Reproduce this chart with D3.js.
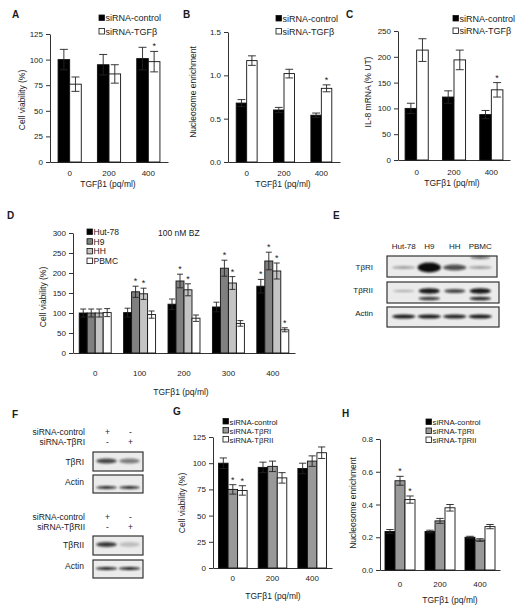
<!DOCTYPE html>
<html><head><meta charset="utf-8">
<script src="https://cdn.jsdelivr.net/npm/d3@7"></script>
<style>body{margin:0;background:#fff}svg{display:block;font-family:"Liberation Sans",Arial,sans-serif}svg text{fill:#1a1a1a}</style>
</head><body><svg id="c" width="523" height="612"></svg>
<script>
// ---------------- DATA ----------------
const doseABC = ["0", "200", "400"];
const seriesAB = ["siRNA-control", "siRNA-TGFβ"];
// Panel A: cell viability (%)
const aControl = [100, 95, 101];
const aControlErr = [10, 10, 11];
const aTGF = [76, 86, 98];
const aTGFErr = [7, 9, 10];
const aTicks = [0, 25, 50, 75, 100, 125];
// Panel B: nucleosome enrichment
const bControl = [0.68, 0.60, 0.54];
const bControlErr = [0.04, 0.03, 0.025];
const bTGF = [1.17, 1.02, 0.85];
const bTGFErr = [0.055, 0.05, 0.04];
const bTicks = [0, 0.5, 1.0, 1.5];
// Panel C: IL-8 mRNA (% UT)
const cControl = [100, 122, 88];
const cControlErr = [10, 12, 8];
const cTGF = [213, 194, 136];
const cTGFErr = [22, 19, 14];
const cTicks = [0, 50, 100, 150, 200, 250];
// Panel D: cell viability, 100 nM BZ
const doseD = ["0", "100", "200", "300", "400"];
const seriesD = ["Hut-78", "H9", "HH", "PBMC"];
const dHut78 = [100, 101, 122, 115, 167];
const dHut78Err = [10, 11, 13, 12, 17];
const dH9 = [100, 153, 180, 212, 230];
const dH9Err = [10, 14, 17, 20, 22];
const dHH = [100, 148, 158, 175, 205];
const dHHErr = [10, 14, 15, 16, 20];
const dPBMC = [101, 96, 87, 74, 58];
const dPBMCErr = [10, 9, 8, 7, 5];
const dTicks = [0, 50, 100, 150, 200, 250, 300];
// Panel G / H
const seriesGH = ["siRNA-control", "siRNA-TβRI", "siRNA-TβRII"];
const gControl = [100, 96, 95];
const gControlErr = [5, 5, 5];
const gTbRI = [75, 97, 102];
const gTbRIErr = [4.5, 5, 5];
const gTbRII = [74, 86, 110];
const gTbRIIErr = [4.5, 5, 5.5];
const gTicks = [0, 25, 50, 75, 100, 125];
const hControl = [0.235, 0.235, 0.20];
const hControlErr = [0.012, 0.008, 0.006];
const hTbRI = [0.545, 0.30, 0.183];
const hTbRIErr = [0.027, 0.015, 0.008];
const hTbRII = [0.43, 0.38, 0.265];
const hTbRIIErr = [0.022, 0.02, 0.013];
const hTicks = [0, 0.2, 0.4, 0.6, 0.8];
// Western blots (band intensities 0..1)
const eLanes = ["Hut-78", "H9", "HH", "PBMC"];
const eTbRI = [0.35, 1.0, 0.7, 0.35];
const eTbRIIupper = [0.3, 0.95, 0.75, 0.95];
const eTbRIIlower = [0.0, 0.8, 0.0, 0.9];
const eActin = [0.95, 0.95, 0.9, 0.95];
const fLanes = ["control", "knockdown"];
const fCtrlSigns1 = ["+", "-"];
const fKdSigns1 = ["-", "+"];
const fTbRI = [0.75, 0.5];
const fActin1 = [0.9, 0.9];
const fTbRII = [0.8, 0.2];
const fActin2 = [0.95, 0.95];

// ---------------- DRAW ----------------
const svg = d3.select("#c");
svg.append("rect").attr("width", 523).attr("height", 612).attr("fill", "#fff");
const defs = svg.append("defs");
defs.append("filter").attr("id", "blur").attr("x", "-50%").attr("y", "-100%").attr("width", "200%").attr("height", "300%")
  .append("feGaussianBlur").attr("stdDeviation", 1.1);

function panelLabel(t, x, y) {
  svg.append("text").attr("x", x).attr("y", y).attr("font-size", 10).attr("font-weight", "bold").text(t);
}

function barPanel(p) {
  const g = svg.append("g");
  const x = d3.scaleBand().domain(p.groups).range([p.x0, p.x1]).paddingInner(p.pad).paddingOuter(p.pad / 2);
  const xs = d3.scaleBand().domain(p.series.map(s => s.name)).range([0, x.bandwidth()]);
  const y = d3.scaleLinear().domain([0, p.max]).range([p.yBot, p.yTop]);
  // y axis
  const ya = g.append("g").attr("transform", `translate(${p.x0},0)`)
    .call(d3.axisLeft(y).tickValues(p.ticks).tickFormat(p.fmt).tickSizeInner(4).tickSizeOuter(0).tickPadding(3));
  ya.selectAll("text").attr("font-size", 8).attr("font-family", "Liberation Sans, Arial, sans-serif").attr("fill", "#1a1a1a");
  ya.selectAll("line,path").attr("stroke", "#333");
  // x axis
  const xa = g.append("g").attr("transform", `translate(0,${p.yBot})`)
    .call(d3.axisBottom(x).tickSizeInner(0).tickSizeOuter(0).tickPadding(p.xPad));
  xa.selectAll("text").attr("font-size", 8).attr("font-family", "Liberation Sans, Arial, sans-serif").attr("fill", "#1a1a1a");
  xa.selectAll("path").attr("stroke", "#333");
  // bars
  p.series.forEach((s, si) => {
    const gg = g.append("g");
    p.groups.forEach((grp, gi) => {
      const bx = x(grp) + xs(s.name);
      const bw = xs.bandwidth();
      gg.append("rect").attr("x", bx).attr("y", y(s.values[gi])).attr("width", bw)
        .attr("height", y(0) - y(s.values[gi])).attr("fill", s.fill).attr("stroke", "#111").attr("stroke-width", 0.9);
      const cx = bx + bw / 2, cw = Math.min(bw * 0.75, 8) / 2;
      const hi = y(s.values[gi] + s.errors[gi]), lo = y(s.values[gi] - s.errors[gi]);
      const ec = "#222";
      gg.append("line").attr("x1", cx).attr("x2", cx).attr("y1", hi).attr("y2", lo).attr("stroke", ec).attr("stroke-width", 0.9);
      gg.append("line").attr("x1", cx - cw).attr("x2", cx + cw).attr("y1", hi).attr("y2", hi).attr("stroke", ec).attr("stroke-width", 0.9);
      gg.append("line").attr("x1", cx - cw).attr("x2", cx + cw).attr("y1", lo).attr("y2", lo).attr("stroke", ec).attr("stroke-width", 0.9);
      if (s.stars && s.stars[gi]) {
        gg.append("text").attr("x", cx).attr("y", hi - 2).attr("text-anchor", "middle").attr("font-size", 9).text("*");
      }
    });
  });
  // legend
  const lg = g.append("g");
  p.series.forEach((s, i) => {
    const ly = p.legY + i * p.legDy;
    lg.append("rect").attr("x", p.legX).attr("y", ly - 3).attr("width", 5.5).attr("height", 5.5)
      .attr("fill", s.fill).attr("stroke", "#111").attr("stroke-width", 0.8);
    lg.append("text").attr("x", p.legX + 6.5).attr("y", ly + 3).attr("font-size", p.legFont || 9).text(s.name);
  });
  // y title
  g.append("text").attr("transform", `translate(${p.yTitleX},${p.yTitleY}) rotate(-90)`)
    .attr("text-anchor", "middle").attr("dy", "0.35em").attr("font-size", 8.5).text(p.yTitle);
  // x title
  g.append("text").attr("x", p.xTitleX).attr("y", p.xTitleY).attr("text-anchor", "middle").attr("font-size", 8.5).text("TGFβ1 (pq/ml)");
}

const fmt0 = d3.format("d"), fmt1 = d3.format(".1f");

// Panel A
panelLabel("A", 12, 18);
barPanel({
  groups: doseABC, x0: 50, x1: 168, pad: 0.41, yTop: 34, yBot: 162, max: 125, ticks: aTicks, fmt: fmt0, xPad: 8,
  series: [
    { name: seriesAB[0], values: aControl, errors: aControlErr, fill: "#000" },
    { name: seriesAB[1], values: aTGF, errors: aTGFErr, fill: "#fff", stars: [0, 0, 1] }],
  legX: 99, legY: 18, legDy: 13.5, yTitle: "Cell viability (%)", yTitleX: 22, yTitleY: 100, xTitleX: 108, xTitleY: 187
});
// Panel B
panelLabel("B", 183, 18);
barPanel({
  groups: doseABC, x0: 228, x1: 340, pad: 0.44, yTop: 32, yBot: 162, max: 1.5, ticks: bTicks, fmt: fmt1, xPad: 8,
  series: [
    { name: seriesAB[0], values: bControl, errors: bControlErr, fill: "#000" },
    { name: seriesAB[1], values: bTGF, errors: bTGFErr, fill: "#fff", stars: [0, 0, 1] }],
  legX: 276, legY: 18.5, legDy: 13, yTitle: "Nucleosome enrichment", yTitleX: 193, yTitleY: 92, xTitleX: 283, xTitleY: 187
});
// Panel C
panelLabel("C", 346, 18);
barPanel({
  groups: doseABC, x0: 398, x1: 510, pad: 0.38, yTop: 31, yBot: 160, max: 250, ticks: cTicks, fmt: fmt0, xPad: 9,
  series: [
    { name: seriesAB[0], values: cControl, errors: cControlErr, fill: "#000" },
    { name: seriesAB[1], values: cTGF, errors: cTGFErr, fill: "#fff", stars: [0, 0, 1] }],
  legX: 453, legY: 18.5, legDy: 12.5, yTitle: "IL-8 mRNA  (% UT)", yTitleX: 368, yTitleY: 92, xTitleX: 452, xTitleY: 186
});
// Panel D
panelLabel("D", 7, 219);
barPanel({
  groups: doseD, x0: 73, x1: 295, pad: 0.28, yTop: 233, yBot: 353, max: 300, ticks: dTicks, fmt: fmt0, xPad: 17,
  series: [
    { name: seriesD[0], values: dHut78, errors: dHut78Err, fill: "#000", stars: [0, 0, 0, 0, 1] },
    { name: seriesD[1], values: dH9, errors: dH9Err, fill: "#808080", stars: [0, 1, 1, 1, 1] },
    { name: seriesD[2], values: dHH, errors: dHHErr, fill: "#c4c4c4", stars: [0, 1, 1, 1, 1] },
    { name: seriesD[3], values: dPBMC, errors: dPBMCErr, fill: "#fff", stars: [0, 0, 0, 0, 1] }],
  legX: 87, legY: 232, legDy: 9.7, legFont: 8.5, yTitle: "Cell viability  (%)", yTitleX: 43, yTitleY: 297, xTitleX: 181, xTitleY: 395
});
svg.append("text").attr("x", 158).attr("y", 236).attr("font-size", 8.5).text("100 nM BZ");
// Panel G
panelLabel("G", 173, 415);
barPanel({
  groups: doseABC, x0: 213, x1: 332, pad: 0.28, yTop: 437, yBot: 568, max: 125, ticks: gTicks, fmt: fmt0, xPad: 7,
  series: [
    { name: seriesGH[0], values: gControl, errors: gControlErr, fill: "#000" },
    { name: seriesGH[1], values: gTbRI, errors: gTbRIErr, fill: "#999", stars: [1, 0, 0] },
    { name: seriesGH[2], values: gTbRII, errors: gTbRIIErr, fill: "#fff", stars: [1, 0, 0] }],
  legX: 223, legY: 421.5, legDy: 9, legFont: 7.8, yTitle: "Cell viability  (%)", yTitleX: 182, yTitleY: 503, xTitleX: 273, xTitleY: 599
});
// Panel H
panelLabel("H", 342, 417);
barPanel({
  groups: doseABC, x0: 380, x1: 500, pad: 0.25, yTop: 439, yBot: 570, max: 0.8, ticks: hTicks, fmt: fmt1, xPad: 11,
  series: [
    { name: seriesGH[0], values: hControl, errors: hControlErr, fill: "#000" },
    { name: seriesGH[1], values: hTbRI, errors: hTbRIErr, fill: "#999", stars: [1, 0, 0] },
    { name: seriesGH[2], values: hTbRII, errors: hTbRIIErr, fill: "#fff", stars: [1, 0, 0] }],
  legX: 426, legY: 422, legDy: 9, legFont: 7.8, yTitle: "Nucleosome enrichment", yTitleX: 353, yTitleY: 503, xTitleX: 450, xTitleY: 603
});

// ---------------- BLOTS ----------------
function blotBox(x0, x1, y0, y1) {
  svg.append("rect").attr("x", x0).attr("y", y0).attr("width", x1 - x0).attr("height", y1 - y0)
    .attr("fill", "#ebebeb").attr("stroke", "#333").attr("stroke-width", 1.2);
}
function bands(scale, lanes, vals, cy, baseH, opts = {}) {
  lanes.forEach((l, i) => {
    const v = vals[i];
    if (v <= 0) return;
    const cx = scale(l) + scale.bandwidth() / 2;
    const rx = scale.bandwidth() * (opts.wf || 0.42);
    const ry = baseH * (opts.hScale ? (0.5 + v * v * opts.hScale) : 1);
    svg.append("ellipse").attr("cx", cx).attr("cy", cy).attr("rx", rx).attr("ry", ry)
      .attr("fill", "#111").attr("opacity", v).attr("filter", "url(#blur)");
  });
}
// Panel E
panelLabel("E", 333, 219);
const eX = d3.scaleBand().domain(eLanes).range([391, 493]);
eLanes.forEach(l => svg.append("text").attr("x", eX(l) + eX.bandwidth() / 2).attr("y", 249)
  .attr("text-anchor", "middle").attr("font-size", 8).text(l));
[["TβRI", 270], ["TβRII", 293], ["Actin", 316]].forEach(([t, yy]) =>
  svg.append("text").attr("x", 373).attr("y", yy).attr("text-anchor", "end").attr("font-size", 8).text(t));
blotBox(387, 497, 256, 277);
bands(eX, eLanes, eTbRI, 267.5, 2, { hScale: 2, wf: 0.46 });
svg.append("ellipse").attr("cx", eX("PBMC") + eX.bandwidth() / 2).attr("cy", 257.5).attr("rx", 10).attr("ry", 1.5)
  .attr("fill", "#111").attr("opacity", 0.6).attr("filter", "url(#blur)");
blotBox(387, 499, 282, 303);
bands(eX, eLanes, eTbRIIupper, 291, 1.6, { hScale: 1.4 });
bands(eX, eLanes, eTbRIIlower, 298.5, 1.8);
blotBox(387, 499, 307, 327);
bands(eX, eLanes, eActin, 316.5, 2.0, { wf: 0.46 });

// Panel F
panelLabel("F", 12, 418);
const fX = d3.scaleBand().domain(fLanes).range([95, 141]);
function fHeader(y1, ctrlLabel, kdLabel) {
  svg.append("text").attr("x", 85).attr("y", y1).attr("text-anchor", "end").attr("font-size", 8.5).text(ctrlLabel);
  svg.append("text").attr("x", 85).attr("y", y1 + 10).attr("text-anchor", "end").attr("font-size", 8.5).text(kdLabel);
  fLanes.forEach((l, i) => {
    const cx = fX(l) + fX.bandwidth() / 2 + 1;
    svg.append("text").attr("x", cx).attr("y", y1).attr("text-anchor", "middle").attr("font-size", 8.5).text(fCtrlSigns1[i]);
    svg.append("text").attr("x", cx).attr("y", y1 + 10).attr("text-anchor", "middle").attr("font-size", 8.5).text(fKdSigns1[i]);
  });
}
fHeader(435, "siRNA-control", "siRNA-TβRI");
[["TβRI", 465], ["Actin", 485]].forEach(([t, yy]) =>
  svg.append("text").attr("x", 84).attr("y", yy).attr("text-anchor", "end").attr("font-size", 8.5).text(t));
blotBox(93, 143, 452, 471);
bands(fX, fLanes, fTbRI, 461, 2.5, { wf: 0.45 });
blotBox(93, 143, 475, 493);
bands(fX, fLanes, fActin1, 487.5, 1.4, { wf: 0.45 });
fHeader(520, "siRNA-control", "siRNA-TβRII");
[["TβRII", 548], ["Actin", 569]].forEach(([t, yy]) =>
  svg.append("text").attr("x", 84).attr("y", yy).attr("text-anchor", "end").attr("font-size", 8.5).text(t));
blotBox(93, 143, 536, 555);
bands(fX, fLanes, fTbRII, 544.5, 2.4, { wf: 0.45 });
blotBox(93, 143, 560, 578);
bands(fX, fLanes, fActin2, 568.5, 1.5, { wf: 0.47 });
</script></body></html>
